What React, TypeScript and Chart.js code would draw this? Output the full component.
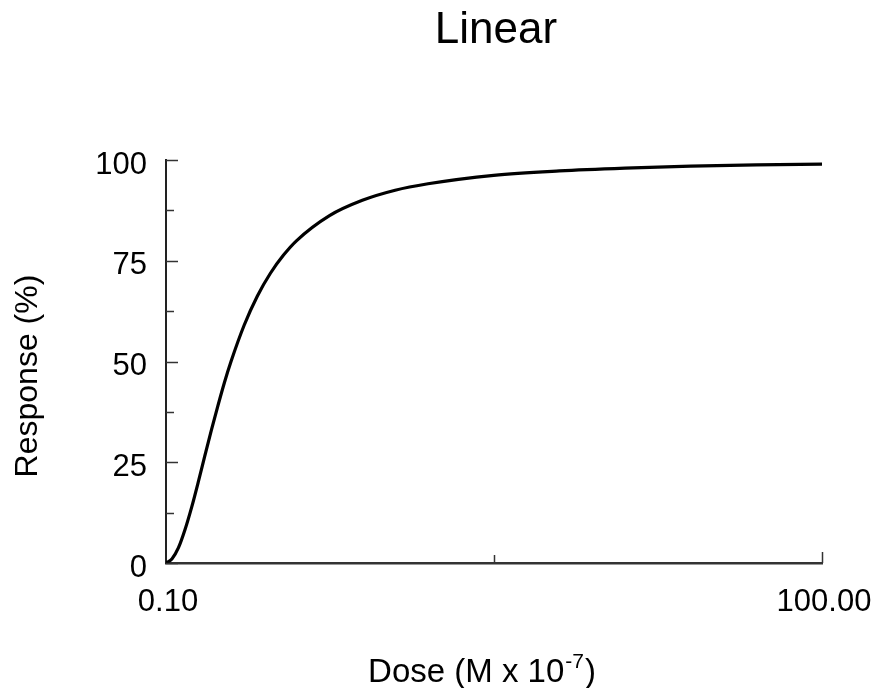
import React, { useEffect, useRef } from 'react';
import { Chart, registerables } from 'chart.js';

Chart.register(...registerables);

const chartTitle = 'Linear';
const yAxisTitle = 'Response (%)';
const xAxisTitleMain = 'Dose (M x 10';
const xAxisTitleSup = '-7';
const xAxisTitleEnd = ')';

const doseValues = [0.1, 1, 2, 3, 4, 5, 6, 7, 8, 9, 10, 12, 14, 16, 18, 20, 25, 30, 35, 40, 50, 60, 70, 80, 90, 100];
const responseValues = [0.0, 1.0, 3.8, 8.3, 13.8, 20.0, 26.5, 32.9, 39.0, 44.8, 50.0, 59.0, 66.2, 71.9, 76.4, 80.0, 86.2, 90.0, 92.5, 94.1, 96.2, 97.3, 98.0, 98.5, 98.8, 99.0];

const xTickValues = [0.1, 50.05, 100];
const xTickLabels = ['0.10', '', '100.00'];
const yTickValues = [0, 25, 50, 75, 100];
const yMinorTickValues = [12.5, 37.5, 62.5, 87.5];

const FONT = '"Liberation Sans", Arial, sans-serif';

const decorPlugin = {
  id: 'decor',
  afterDraw(chart: any) {
    const ctx: CanvasRenderingContext2D = chart.ctx;
    const xs = chart.scales.x;
    const ys = chart.scales.y;
    const area = chart.chartArea;
    ctx.save();
    ctx.strokeStyle = '#333';
    ctx.lineWidth = 1.5;
    const hline = (v: number, len: number) => {
      const py = Math.round(ys.getPixelForValue(v)) + 0.5;
      ctx.beginPath();
      ctx.moveTo(area.left, py);
      ctx.lineTo(area.left + len, py);
      ctx.stroke();
    };
    yTickValues.forEach((v) => hline(v, 12));
    yMinorTickValues.forEach((v) => hline(v, 8));
    const vline = (v: number, len: number) => {
      const px = Math.round(xs.getPixelForValue(v)) + 0.5;
      ctx.beginPath();
      ctx.moveTo(px, area.bottom);
      ctx.lineTo(px, area.bottom - len);
      ctx.stroke();
    };
    vline(xTickValues[1], 8);
    vline(xTickValues[2], 11);

    ctx.fillStyle = '#000';
    ctx.font = `44px ${FONT}`;
    ctx.textAlign = 'center';
    ctx.textBaseline = 'alphabetic';
    ctx.fillText(chartTitle, (area.left + area.right) / 2 + 2, 43);

    ctx.save();
    ctx.translate(37, 376);
    ctx.rotate(-Math.PI / 2);
    ctx.font = `32px ${FONT}`;
    ctx.textAlign = 'center';
    ctx.fillText(yAxisTitle, 0, 0);
    ctx.restore();

    ctx.font = `33px ${FONT}`;
    const w1 = ctx.measureText(xAxisTitleMain).width;
    ctx.font = `21px ${FONT}`;
    const w2 = ctx.measureText(xAxisTitleSup).width;
    ctx.font = `33px ${FONT}`;
    const w3 = ctx.measureText(xAxisTitleEnd).width;
    const total = w1 + w2 + 2 + w3;
    let sx = 482 - total / 2;
    const baseY = 682;
    ctx.textAlign = 'left';
    ctx.fillText(xAxisTitleMain, sx, baseY);
    sx += w1 + 1;
    ctx.font = `21px ${FONT}`;
    ctx.fillText(xAxisTitleSup, sx, baseY - 14);
    sx += w2 + 1;
    ctx.font = `33px ${FONT}`;
    ctx.fillText(xAxisTitleEnd, sx, baseY);
    ctx.restore();
  },
};

export default function App() {
  const canvasRef = useRef<HTMLCanvasElement | null>(null);

  useEffect(() => {
    document.body.style.margin = '0';
    const canvas = canvasRef.current;
    if (!canvas) return;
    const chart = new Chart(canvas, {
      type: 'line',
      data: {
        datasets: [
          {
            data: doseValues.map((d, i) => ({ x: d, y: responseValues[i] })),
            borderColor: '#000',
            borderWidth: 3.2,
            pointRadius: 0,
            fill: false,
            cubicInterpolationMode: 'monotone',
          },
        ],
      },
      options: {
        animation: false,
        responsive: false,
        devicePixelRatio: 1,
        layout: { padding: { top: 160, right: 54, left: 0, bottom: 0 } },
        plugins: {
          legend: { display: false },
          title: { display: false },
          tooltip: { enabled: false },
        },
        scales: {
          x: {
            type: 'linear',
            min: 0.1,
            max: 100,
            afterBuildTicks: (scale: any) => {
              scale.ticks = xTickValues.map((v) => ({ value: v }));
            },
            afterFit: (scale: any) => {
              scale.height = 125;
              scale.paddingRight = 0;
              scale.paddingLeft = 0;
            },
            grid: { display: false, drawTicks: false },
            border: { display: true, color: '#333', width: 2.5 },
            ticks: {
              autoSkip: false,
              maxRotation: 0,
              minRotation: 0,
              padding: 21,
              labelOffset: 2,
              color: '#000',
              font: { family: FONT, size: 31 },
              callback: (_v: any, i: number) => xTickLabels[i],
            },
          },
          y: {
            type: 'linear',
            min: 0,
            max: 100,
            afterBuildTicks: (scale: any) => {
              scale.ticks = yTickValues.map((v) => ({ value: v }));
            },
            afterFit: (scale: any) => {
              scale.width = 166;
              scale.paddingTop = 0;
              scale.paddingBottom = 0;
            },
            grid: { display: false, drawTicks: false },
            border: { display: true, color: '#222', width: 2 },
            ticks: {
              padding: 19,
              labelOffset: 5,
              color: '#000',
              font: { family: FONT, size: 31 },
              callback: (v: any) => String(v),
            },
          },
        },
      },
      plugins: [decorPlugin],
    } as any);
    return () => chart.destroy();
  }, []);

  return (
    <div style={{ position: 'absolute', left: 0, top: 0, width: 876, height: 688 }}>
      <canvas ref={canvasRef} width={876} height={688} style={{ display: 'block' }} />
    </div>
  );
}
